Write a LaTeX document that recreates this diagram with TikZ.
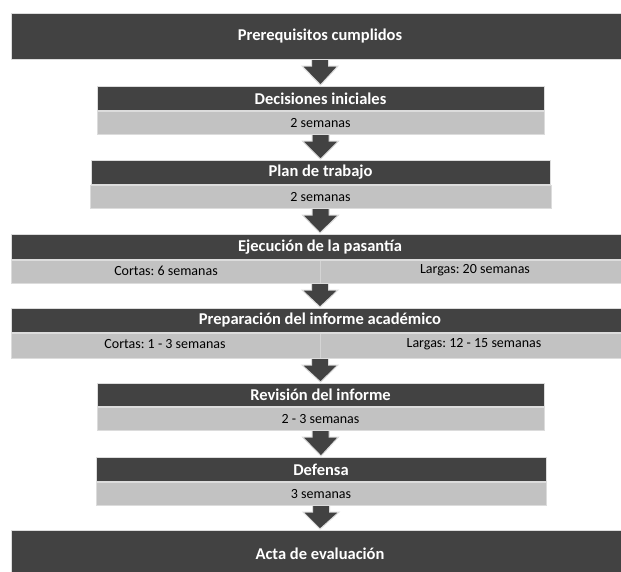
\documentclass[tikz,border=0pt]{standalone}
\usepackage{fontspec}
\setmainfont{Carlito}
\usetikzlibrary{calc}
\frenchspacing
\definecolor{darkbar}{HTML}{424242}
\definecolor{lightbar}{HTML}{C2C2C2}
\definecolor{edgegray}{HTML}{DCDCDC}
\definecolor{divgray}{HTML}{D4D4D4}
\tikzset{
  headbox/.style={fill=darkbar, draw=edgegray, line width=1pt, text=white,
    font=\bfseries\fontsize{16.5}{18}\selectfont, inner sep=0pt, anchor=north},
  rowbox/.style={fill=lightbar, draw=edgegray, line width=1pt, text=black,
    font=\fontsize{14}{16}\selectfont, inner sep=0pt, anchor=north},
  rowtext/.style={inner sep=0pt, text=black, font=\fontsize{14}{16}\selectfont},
  blockarrow/.style={fill=darkbar, draw=edgegray, line width=1pt, line join=miter}
}
\newcommand{\flowarrow}[2]{%
  \filldraw[blockarrow] ($(#1.south)+(-8.5,0)$) -- ($(#1.south)+(-8.5,6)$)
    -- ($(#1.south)+(-18,6)$) -- ($(#2.north)+(0,-1)$)
    -- ($(#1.south)+(18,6)$) -- ($(#1.south)+(8.5,6)$) -- ($(#1.south)+(8.5,0)$);}
\begin{document}
\begin{tikzpicture}[x=1pt,y=-1pt]
\useasboundingbox (0,0) rectangle (621,571);
\clip (0,0) rectangle (621,571);
\fill[white] (0,0) rectangle (621,571);

% boxes
\node[headbox, minimum width=618pt, minimum height=46pt] (pre) at (320,13) {Prerequisitos cumplidos};

\node[headbox, minimum width=447pt, minimum height=24pt] (dec) at (320.5,86) {Decisiones iniciales};
\node[rowbox, minimum width=447pt, minimum height=23pt] (decr) at (dec.south) {2 semanas};

\node[headbox, minimum width=459pt, minimum height=24pt] (plan) at (320.5,160) {Plan de trabajo};
\node[rowbox, minimum width=461pt, minimum height=23pt] (planr) at (plan.south) {2 semanas};

\node[headbox, minimum width=618pt, minimum height=25pt] (eje) at (320,234) {Ejecución de la pasantía};
\node[rowbox, minimum width=618pt, minimum height=23pt] (ejer) at (eje.south) {};
\draw[divgray, line width=0.8pt] ($(ejer.north)+(0,1)$) -- ($(ejer.south)+(0,-1)$);
\node[rowtext] (ejec) at (166,270.5) {Cortas: 6 semanas};
\node[rowtext] (ejel) at (475,270.5) {Largas: 20 semanas};

\node[headbox, minimum width=618pt, minimum height=24pt] (prep) at (320,308) {Preparación del informe académico};
\node[rowbox, minimum width=618pt, minimum height=25pt] (prepr) at (prep.south) {};
\draw[divgray, line width=0.8pt] ($(prepr.north)+(0,1)$) -- ($(prepr.south)+(0,-1)$);
\node[rowtext] (prepc) at (165,344.5) {Cortas: 1 - 3 semanas};
\node[rowtext] (prepl) at (474,344.5) {Largas: 12 - 15 semanas};

\node[headbox, minimum width=447pt, minimum height=23pt] (rev) at (320.5,383) {Revisión del informe};
\node[rowbox, minimum width=447pt, minimum height=23pt] (revr) at (rev.south) {2 - 3 semanas};

\node[headbox, minimum width=450pt, minimum height=24pt] (def) at (321,457) {Defensa};
\node[rowbox, minimum width=450pt, minimum height=23pt] (defr) at (def.south) {3 semanas};

\node[headbox, minimum width=618pt, minimum height=46pt] (acta) at (320,530) {Acta de evaluación};

% arrows
\flowarrow{pre}{dec}
\flowarrow{decr}{plan}
\flowarrow{planr}{eje}
\flowarrow{ejer}{prep}
\flowarrow{prepr}{rev}
\flowarrow{revr}{def}
\flowarrow{defr}{acta}
\end{tikzpicture}
\end{document}
